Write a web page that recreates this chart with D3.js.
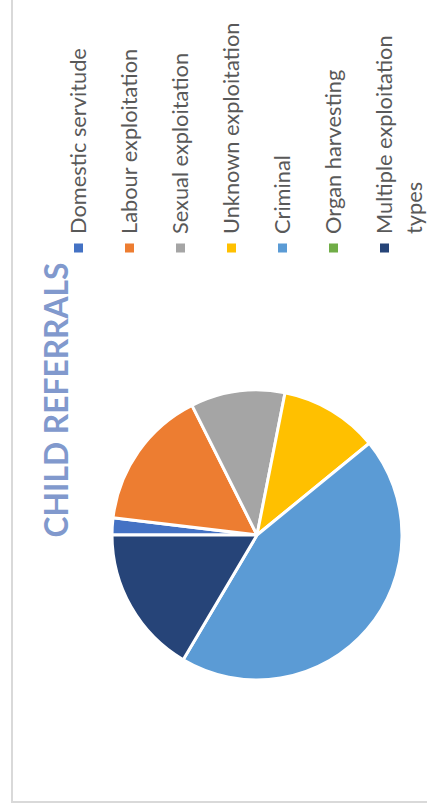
<!DOCTYPE html>
<html>
<head>
<meta charset="utf-8">
<script src="https://cdn.jsdelivr.net/npm/d3@7"></script>
<style>
  html, body { margin: 0; padding: 0; background: #fff; }
  svg { display: block; }
</style>
</head>
<body>
<svg id="chart" width="427" height="811"></svg>
<script>
// ---- data ----
const title = "CHILD REFERRALS";
const categories = ["Domestic servitude", "Labour exploitation", "Sexual exploitation",
  "Unknown exploitation", "Criminal", "Organ harvesting", "Multiple exploitation types"];
const legendLines = [["Domestic servitude"], ["Labour exploitation"], ["Sexual exploitation"],
  ["Unknown exploitation"], ["Criminal"], ["Organ harvesting"], ["Multiple exploitation", "types"]];
const values = [19, 157, 105, 110, 444, 0, 165];
const colors = ["#4472C4", "#ED7D31", "#A5A5A5", "#FFC000", "#5B9BD5", "#70AD47", "#264478"];

const svg = d3.select("#chart");
const W = 427, H = 811;

// frame (chart area border, cropped at top/right)
svg.append("path")
  .attr("d", `M12,0 L12,802 L${W},802`)
  .attr("fill", "none").attr("stroke", "#d9d9d9").attr("stroke-width", 2);

// pie (chart is rotated 90° counter-clockwise: 12 o'clock start becomes 9 o'clock)
const cx = 257, cy = 535, r = 145;
const pie = d3.pie().sort(null).value(d => d)
  .startAngle(-Math.PI / 2).endAngle(3 * Math.PI / 2);
const arc = d3.arc().innerRadius(0).outerRadius(r);
svg.append("g").attr("transform", `translate(${cx},${cy})`)
  .selectAll("path").data(pie(values)).join("path")
  .attr("d", d => d.value > 0 ? arc(d) : null)
  .attr("fill", (d, i) => colors[i])
  .attr("stroke", "#fff").attr("stroke-width", 3).attr("stroke-linejoin", "round");

// title
const t = svg.append("text")
  .attr("transform", "translate(68,400) rotate(-90)")
  .attr("text-anchor", "middle")
  .attr("font-family", "Lato, 'Open Sans', sans-serif")
  .attr("font-weight", "bold")
  .attr("font-size", 36)
  .attr("fill", "#8199CD")
  .text(title);
const tl = t.node().getComputedTextLength();
t.attr("font-size", 36 * 275 / tl);

// legend
const x0 = 78.5, step = 51, markerY = 248, textStartY = 234;
const lg = svg.append("g");
const items = lg.selectAll("g").data(categories).join("g");
items.append("rect")
  .attr("x", (d, i) => x0 + step * i - 4.5)
  .attr("y", markerY - 4.5)
  .attr("width", 9).attr("height", 9)
  .attr("fill", (d, i) => colors[i]);
const texts = items.append("text")
  .attr("transform", (d, i) => `translate(${x0 + step * i + 7.5},${textStartY}) rotate(-90)`)
  .attr("font-family", "Lato, 'Open Sans', sans-serif")
  .attr("font-size", 22)
  .attr("fill", "#595959");
texts.selectAll("tspan").data((d, i) => legendLines[i]).join("tspan")
  .attr("x", 0).attr("dy", (d, j) => j === 0 ? 0 : 30)
  .text(d => d);
// fit size to reference length of first entry
const firstLen = texts.nodes()[0].getComputedTextLength();
texts.attr("font-size", 22 * 186 / firstLen);
</script>
</body>
</html>
